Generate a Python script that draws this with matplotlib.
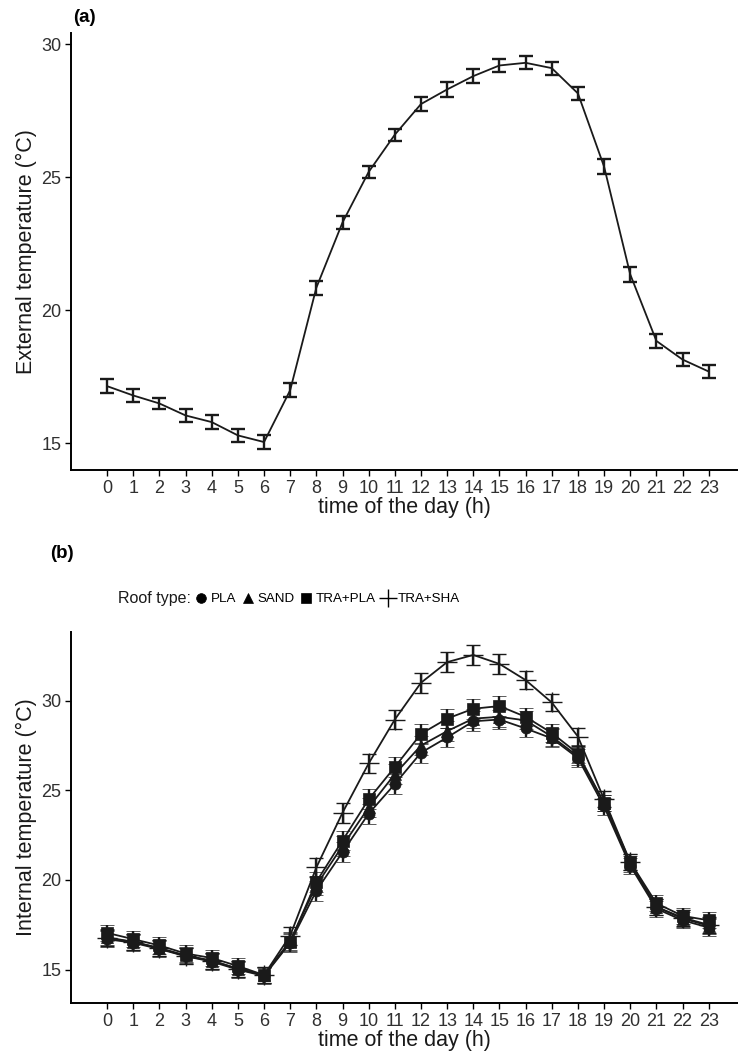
import matplotlib
matplotlib.use("Agg")
import matplotlib.pyplot as plt
from matplotlib.lines import Line2D

plt.rcParams['font.family'] = ['Liberation Sans', 'DejaVu Sans']

hours = list(range(24))
hour_labels = [str(h) for h in hours]

ext_mean = [17.15, 16.8, 16.5, 16.05, 15.8, 15.3, 15.05, 17.0, 20.85, 23.3, 25.2,
            26.6, 27.75, 28.3, 28.8, 29.2, 29.3, 29.1, 28.15, 25.4, 21.35, 18.85, 18.15, 17.7]
ext_se = [0.27, 0.25, 0.22, 0.24, 0.25, 0.25, 0.25, 0.27, 0.27, 0.25, 0.23,
          0.22, 0.25, 0.27, 0.25, 0.24, 0.24, 0.24, 0.25, 0.27, 0.27, 0.25, 0.25, 0.25]

roof_types = ['PLA', 'SAND', 'TRA+PLA', 'TRA+SHA']
int_pla = [16.7, 16.5, 16.15, 15.75, 15.45, 15.0, 14.65, 16.5, 19.4, 21.55, 23.7,
           25.35, 27.1, 27.95, 28.85, 28.95, 28.45, 27.9, 26.8, 24.1, 20.8, 18.4, 17.75, 17.35]
int_sand = [16.8, 16.55, 16.2, 15.8, 15.5, 15.05, 14.7, 16.6, 19.7, 21.9, 24.05,
            25.9, 27.5, 28.3, 29.0, 29.1, 28.9, 28.0, 26.9, 24.3, 20.9, 18.5, 17.85, 17.45]
int_trapla = [17.05, 16.7, 16.35, 15.9, 15.65, 15.2, 14.7, 16.55, 19.9, 22.2, 24.5,
              26.3, 28.15, 29.0, 29.55, 29.7, 29.1, 28.2, 27.05, 24.3, 21.0, 18.7, 18.0, 17.75]
int_trasha = [16.75, 16.55, 16.2, 15.75, 15.5, 15.05, 14.7, 16.9, 20.7, 23.75, 26.5,
              28.95, 31.0, 32.15, 32.55, 32.05, 31.15, 29.9, 28.0, 24.5, 21.0, 18.5, 17.9, 17.5]
int_se = [0.45, 0.45, 0.45, 0.45, 0.45, 0.45, 0.45, 0.5, 0.55, 0.55, 0.55,
          0.55, 0.55, 0.55, 0.55, 0.55, 0.5, 0.5, 0.5, 0.45, 0.45, 0.45, 0.45, 0.45]

W, H = 738, 1056
fig = plt.figure(figsize=(W / 100, H / 100), dpi=100)

def ax_rect(left, top, right, bottom):
    return [left / W, 1 - bottom / H, (right - left) / W, (bottom - top) / H]

def style(ax):
    for s in ['top', 'right']:
        ax.spines[s].set_visible(False)
    for s in ['left', 'bottom']:
        ax.spines[s].set_linewidth(1.4)
    ax.tick_params(axis='both', labelsize=13, length=4, width=1.0, colors='black',
                   labelcolor='#303030', pad=3)
    ax.set_xticks(hours)
    ax.set_xticklabels(hour_labels)
    ax.set_xlim(-1.38, 24.12)
    ax.set_xlabel('time of the day (h)', fontsize=15.5, labelpad=0, color='#1a1a1a')

# Panel (a)
ax1 = fig.add_axes(ax_rect(71, 33, 738, 470))
ax1.errorbar(hours, ext_mean, yerr=ext_se, color='#1a1a1a', lw=1.3,
             elinewidth=1.7, capsize=5, capthick=1.7)
ax1.set_ylim(14.0, 30.42)
ax1.set_yticks([15, 20, 25, 30])
style(ax1)
ax1.set_ylabel('External temperature (°C)', fontsize=15.5, labelpad=3, color='#1a1a1a')
fig.text(73 / W, 1 - 18 / H, '(a)', fontsize=13.5, fontweight='bold', va='center', ha='left')

# Panel (b)
ax2 = fig.add_axes(ax_rect(71, 632, 738, 1003))
series = [int_pla, int_sand, int_trapla, int_trasha]
markers = ['o', '^', 's', '+']
msizes = [8, 8, 9, 14]
for vals, mk, ms in zip(series, markers, msizes):
    ax2.errorbar(hours, vals, yerr=int_se, color='#1a1a1a', lw=1.3,
                 marker=mk, markersize=ms, markeredgewidth=1.0 if mk == '+' else 0.5,
                 elinewidth=1.7, capsize=5, capthick=1.7)
ax2.set_ylim(13.14, 33.83)
ax2.set_yticks([15, 20, 25, 30])
style(ax2)
ax2.set_ylabel('Internal temperature (°C)', fontsize=15.5, labelpad=3, color='#1a1a1a')
fig.text(50 / W, 1 - 553 / H, '(b)', fontsize=13.5, fontweight='bold', va='center', ha='left')

# Legend
fig.text(118 / W, 1 - 599 / H, 'Roof type:', fontsize=11.5, va='center', ha='left',
         color='#1a1a1a')
handles = [Line2D([], [], color='black', marker=mk, linestyle='none',
                  markersize=(7 if mk != '+' else 13), markeredgewidth=(1.0 if mk == '+' else 0.5))
           for mk in markers]
fig.legend(handles, roof_types, loc='center left', bbox_to_anchor=(196 / W, 1 - 599 / H),
           ncol=4, frameon=False, fontsize=9.6, handlelength=0.8, handletextpad=0.3,
           columnspacing=0.5, borderpad=0, borderaxespad=0)

fig.savefig('out.png', dpi=100)
